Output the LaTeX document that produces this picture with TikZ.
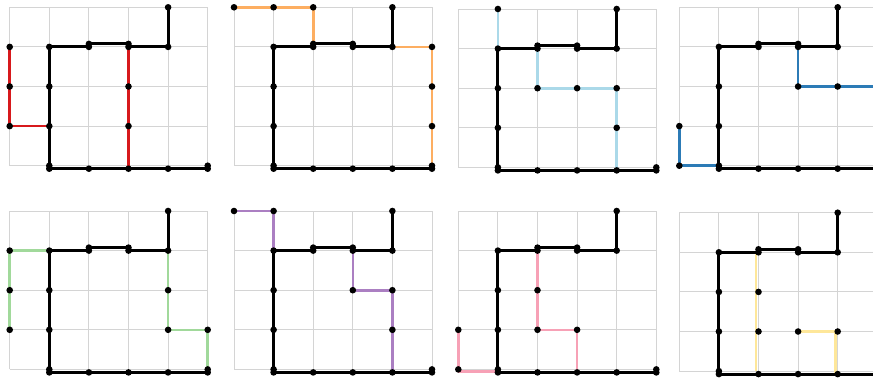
\documentclass[tikz,border=0pt]{standalone}
\definecolor{cred}{HTML}{D7191C}
\definecolor{corange}{HTML}{FDAE61}
\definecolor{clblue}{HTML}{ABD9E9}
\definecolor{cblue}{HTML}{2C7BB6}
\definecolor{cgreen}{HTML}{A1D99B}
\definecolor{cpurple}{HTML}{AB7FC2}
\definecolor{cpink}{HTML}{F7A1B6}
\definecolor{cyellow}{HTML}{FEE79A}
\definecolor{gridgray}{HTML}{D4D4D4}
\newcommand\gridpanel[3]{%
  \foreach \i in {0,...,5}{\foreach \j in {0,...,4}{%
    \coordinate (#1-\i-\j) at ({#2+\i*39.6},{#3+(4-\j)*39.6});}}%
  \foreach \i in {0,...,5}{\draw[gridline] (#1-\i-0) -- (#1-\i-4);}%
  \foreach \j in {0,...,4}{\draw[gridline] (#1-0-\j) -- (#1-5-\j);}%
}
\newcommand\blackroute[1]{%
  \draw[blackpath] (#1-4-4) -- (#1-4-3) -- (#1-3-3) -- ([yshift=3pt]#1-3-3)
    -- ([yshift=3pt]#1-2-3) -- (#1-2-3) -- (#1-1-3) -- (#1-1-2) -- (#1-1-1)
    -- (#1-1-0) -- ([yshift=-3pt]#1-1-0) -- ([yshift=-3pt]#1-5-0) -- (#1-5-0);
  \foreach \c in {4-4,4-3,3-3,2-3,1-3,1-2,1-1,1-0,5-0}{\fill (#1-\c) circle (3.3pt);}%
  \foreach \c in {3-3,2-3}{\fill ([yshift=3pt]#1-\c) circle (3.3pt);}%
  \foreach \c in {1-0,2-0,3-0,4-0,5-0}{\fill ([yshift=-3pt]#1-\c) circle (3.3pt);}%
}
\newcommand\routedots[2]{\foreach \c in {#2}{\fill (#1-\c) circle (3.3pt);}}
\begin{document}
\begin{tikzpicture}[x=1pt,y=-1pt,
  gridline/.style={draw=gridgray, line width=1pt},
  blackpath/.style={draw=black, line width=3pt, line join=round},
  colpath/.style={line width=2.6pt, line join=round}]
\useasboundingbox (0,0) rectangle (873,381);
\clip (0,0) rectangle (873,381);
\fill[white] (0,0) rectangle (873,381);
% panels
\gridpanel{a}{9.7}{7.3}
\gridpanel{b}{234}{7.3}
\gridpanel{c}{458.3}{9}
\gridpanel{d}{679.3}{7.3}
\gridpanel{e}{9.7}{211}
\gridpanel{f}{234}{211}
\gridpanel{g}{458.3}{211}
\gridpanel{h}{679.3}{212.7}
% coloured routes
\draw[colpath, cred] (a-0-3) -- (a-0-2) -- (a-0-1) -- (a-1-1);
\draw[colpath, cred] (a-3-3) -- (a-3-2) -- (a-3-1) -- ([yshift=-3pt]a-3-0);
\draw[colpath, corange] (b-0-4) -- (b-1-4) -- (b-2-4) -- (b-2-3);
\draw[colpath, corange] (b-4-3) -- (b-5-3) -- (b-5-2) -- (b-5-1) -- (b-5-0);
\draw[colpath, clblue] (c-1-4) -- (c-1-3);
\draw[colpath, clblue] (c-2-3) -- (c-2-2) -- (c-3-2) -- (c-4-2) -- (c-4-1) -- ([yshift=-3pt]c-4-0);
\draw[colpath, cblue] (d-0-1) -- (d-0-0) -- (d-1-0);
\draw[colpath, cblue] (d-3-3) -- (d-3-2) -- (d-4-2) -- (d-5-2);
\draw[colpath, cgreen] (e-1-3) -- (e-0-3) -- (e-0-2) -- (e-0-1);
\draw[colpath, cgreen] (e-4-3) -- (e-4-2) -- (e-4-1) -- (e-5-1) -- (e-5-0);
\draw[colpath, cpurple] (f-0-4) -- (f-1-4) -- (f-1-3);
\draw[colpath, cpurple] (f-3-3) -- (f-3-2) -- (f-4-2) -- (f-4-1) -- ([yshift=-3pt]f-4-0);
\draw[colpath, cpink] (g-0-1) -- (g-0-0) -- ([yshift=-2pt]g-0-0) -- ([yshift=-2pt]g-1-0);
\draw[colpath, cpink] (g-2-3) -- (g-2-2) -- (g-2-1) -- (g-3-1) -- ([yshift=-3pt]g-3-0);
\draw[colpath, cyellow] ([xshift=-2.5pt]h-2-3) -- ([xshift=-2.5pt]h-2-0);
\draw[colpath, cyellow] (h-3-1) -- ([xshift=-2pt]h-4-1) -- ([xshift=-2pt,yshift=-3pt]h-4-0);
% black routes
\foreach \p in {a,b,c,d,e,f,g,h}{\blackroute{\p}}
% dots on coloured routes
\routedots{a}{0-3,0-2,0-1,3-2,3-1}
\routedots{b}{0-4,1-4,2-4,5-3,5-2,5-1}
\routedots{c}{1-4,2-2,3-2,4-2,4-1}
\routedots{d}{0-1,0-0,3-2,4-2,5-2}
\routedots{e}{0-3,0-2,0-1,4-2,4-1,5-1}
\routedots{f}{0-4,1-4,3-2,4-2,4-1}
\routedots{g}{0-1,0-0,2-2,2-1,3-1}
\routedots{h}{2-2,2-1,3-1,4-1}
\end{tikzpicture}
\end{document}
